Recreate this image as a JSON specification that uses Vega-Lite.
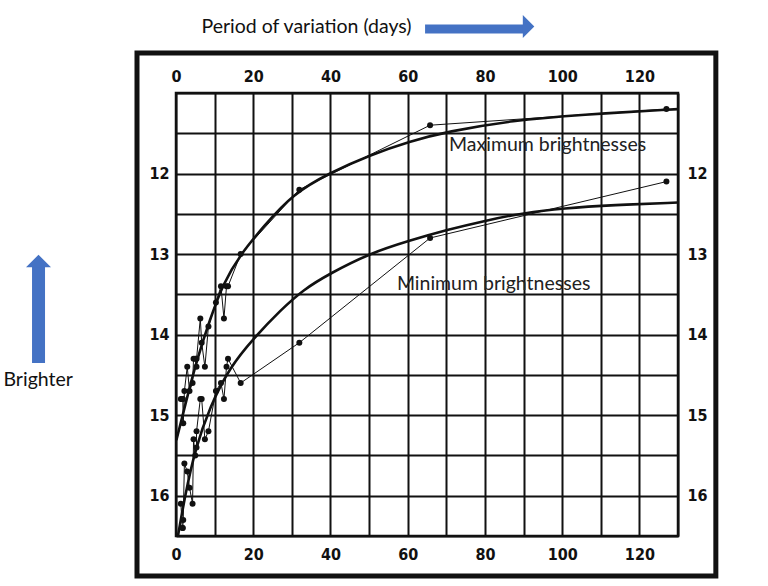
{
  "$schema": "https://vega.github.io/schema/vega-lite/v6.json",
  "width": 502,
  "height": 443,
  "autosize": {"type": "none"},
  "padding": {"left": 176, "top": 93, "right": 90, "bottom": 50},
  "background": "white",
  "config": {
    "view": {"stroke": "#111", "strokeWidth": 2.5},
    "axis": {
      "labelFont": "Liberation Sans Narrow, DejaVu Sans Condensed, sans-serif",
      "labelFontSize": 16,
      "labelFontWeight": "bold",
      "labelColor": "#111",
      "ticks": false,
      "domain": false,
      "title": null,
      "labelFlush": false,
      "labelOverlap": false,
      "gridColor": "#111",
      "gridWidth": 2,
      "gridOpacity": 1
    }
  },
  "datasets": {
    "stars": [
      {"period": 1.25336, "max": 14.8, "min": 16.1},
      {"period": 1.6637, "max": 14.8, "min": 16.4},
      {"period": 1.762, "max": 14.8, "min": 16.4},
      {"period": 1.87502, "max": 15.1, "min": 16.3},
      {"period": 2.17352, "max": 14.7, "min": 15.6},
      {"period": 2.913, "max": 14.4, "min": 15.7},
      {"period": 3.501, "max": 14.7, "min": 15.9},
      {"period": 4.2897, "max": 14.6, "min": 16.1},
      {"period": 4.547, "max": 14.3, "min": 15.3},
      {"period": 4.9866, "max": 14.3, "min": 15.5},
      {"period": 5.311, "max": 14.4, "min": 15.4},
      {"period": 5.323, "max": 14.3, "min": 15.2},
      {"period": 6.2926, "max": 13.8, "min": 14.8},
      {"period": 6.65, "max": 14.1, "min": 14.8},
      {"period": 7.483, "max": 14.4, "min": 15.3},
      {"period": 8.397, "max": 13.9, "min": 15.2},
      {"period": 10.336, "max": 13.6, "min": 14.7},
      {"period": 11.645, "max": 13.4, "min": 14.6},
      {"period": 12.417, "max": 13.8, "min": 14.8},
      {"period": 13.08, "max": 13.4, "min": 14.4},
      {"period": 13.47, "max": 13.4, "min": 14.3},
      {"period": 16.75, "max": 13.0, "min": 14.6},
      {"period": 31.94, "max": 12.2, "min": 14.1},
      {"period": 65.8, "max": 11.4, "min": 12.8},
      {"period": 127.0, "max": 11.2, "min": 12.1}
    ],
    "curves": [
      {"series": "max", "d": 0.1, "m": 15.31},
      {"series": "max", "d": 2.3, "m": 14.89},
      {"series": "max", "d": 5.4, "m": 14.31},
      {"series": "max", "d": 8.8, "m": 13.81},
      {"series": "max", "d": 12.25, "m": 13.36},
      {"series": "max", "d": 16.6, "m": 13.01},
      {"series": "max", "d": 22.6, "m": 12.66},
      {"series": "max", "d": 30.3, "m": 12.25},
      {"series": "max", "d": 39.9, "m": 11.99},
      {"series": "max", "d": 50.2, "m": 11.77},
      {"series": "max", "d": 60.6, "m": 11.6},
      {"series": "max", "d": 70.1, "m": 11.48},
      {"series": "max", "d": 87.3, "m": 11.34},
      {"series": "max", "d": 104.6, "m": 11.27},
      {"series": "max", "d": 130, "m": 11.2},
      {"series": "min", "d": 0.5, "m": 16.5},
      {"series": "min", "d": 2.3, "m": 16.01},
      {"series": "min", "d": 4.9, "m": 15.43},
      {"series": "min", "d": 8.8, "m": 14.89},
      {"series": "min", "d": 14.0, "m": 14.4},
      {"series": "min", "d": 20.0, "m": 14.05},
      {"series": "min", "d": 27.2, "m": 13.69},
      {"series": "min", "d": 33.0, "m": 13.44},
      {"series": "min", "d": 39.9, "m": 13.24},
      {"series": "min", "d": 50.2, "m": 12.99},
      {"series": "min", "d": 60.6, "m": 12.83},
      {"series": "min", "d": 70.1, "m": 12.7},
      {"series": "min", "d": 80.5, "m": 12.58},
      {"series": "min", "d": 89.9, "m": 12.49},
      {"series": "min", "d": 100.3, "m": 12.43},
      {"series": "min", "d": 113.2, "m": 12.39},
      {"series": "min", "d": 130, "m": 12.36}
    ],
    "labels": [
      {"label": "Maximum brightnesses", "d": 70.7, "m": 11.646},
      {"label": "Minimum brightnesses", "d": 57.2, "m": 13.371}
    ],
    "one": [{}]
  },
  "layer": [
    {
      "data": {"name": "curves"},
      "mark": {"type": "line", "interpolate": "basis", "color": "#111", "strokeWidth": 2.6},
      "encoding": {
        "x": {"field": "d", "type": "quantitative",
          "scale": {"domain": [0, 130], "nice": false, "zero": false},
          "axis": {"orient": "bottom", "grid": true, "values": [0,10,20,30,40,50,60,70,80,90,100,110,120,130],
            "labelExpr": "datum.value % 20 === 0 ? datum.label : ''", "labelPadding": 10}},
        "y": {"field": "m", "type": "quantitative",
          "scale": {"domain": [11, 16.5], "nice": false, "zero": false, "reverse": true},
          "axis": {"orient": "left", "grid": true, "values": [11,11.5,12,12.5,13,13.5,14,14.5,15,15.5,16,16.5],
            "labelExpr": "datum.value % 1 === 0 && datum.value >= 12 ? format(datum.value, 'd') : ''", "labelPadding": 7}},
        "detail": {"field": "series"}
      }
    },
    {
      "data": {"name": "stars"},
      "transform": [{"fold": ["max", "min"], "as": ["series", "mag"]}],
      "mark": {"type": "line", "color": "#111", "strokeWidth": 1,
        "point": {"filled": true, "size": 36, "color": "#111"}},
      "encoding": {
        "x": {"field": "period", "type": "quantitative",
          "scale": {"domain": [0, 130], "nice": false, "zero": false},
          "axis": {"orient": "top", "grid": false, "values": [0,20,40,60,80,100,120], "labelPadding": 9}},
        "y": {"field": "mag", "type": "quantitative",
          "scale": {"domain": [11, 16.5], "nice": false, "zero": false, "reverse": true},
          "axis": {"orient": "right", "grid": false, "values": [12,13,14,15,16], "format": "d", "labelPadding": 9}},
        "detail": {"field": "series"}
      }
    },
    {
      "data": {"name": "labels"},
      "mark": {"type": "text", "align": "left", "baseline": "middle", "font": "Lato", "fontSize": 19.5, "color": "#222"},
      "encoding": {
        "x": {"field": "d", "type": "quantitative", "scale": {"domain": [0, 130]}, "axis": null},
        "y": {"field": "m", "type": "quantitative", "scale": {"domain": [11, 16.5], "reverse": true}, "axis": null},
        "text": {"field": "label"}
      }
    },
    {
      "data": {"name": "one"},
      "mark": {"type": "rect", "fill": null, "fillOpacity": 0, "stroke": "#111", "strokeWidth": 5, "clip": false},
      "encoding": {
        "x": {"datum": -10.1, "type": "quantitative", "scale": {"domain": [0, 130]}, "axis": null},
        "x2": {"datum": 139.8},
        "y": {"datum": 10.503, "type": "quantitative", "scale": {"domain": [11, 16.5], "reverse": true}, "axis": null},
        "y2": {"datum": 16.997}
      }
    },
    {
      "data": {"name": "one"},
      "mark": {"type": "text", "text": "Period of variation (days)", "align": "center", "baseline": "middle", "font": "Lato", "fontSize": 19.5, "color": "#111", "clip": false},
      "encoding": {
        "x": {"datum": 33.8, "type": "quantitative", "scale": {"domain": [0, 130]}, "axis": null},
        "y": {"datum": 10.181, "type": "quantitative", "scale": {"domain": [11, 16.5], "reverse": true}, "axis": null}
      }
    },
    {
      "data": {"name": "one"},
      "mark": {"type": "text", "text": "Brighter", "align": "center", "baseline": "middle", "font": "Lato", "fontSize": 19.5, "color": "#111", "clip": false},
      "encoding": {
        "x": {"datum": -35.7, "type": "quantitative", "scale": {"domain": [0, 130]}, "axis": null},
        "y": {"datum": 14.563, "type": "quantitative", "scale": {"domain": [11, 16.5], "reverse": true}, "axis": null}
      }
    },
    {
      "data": {"name": "one"},
      "mark": {"type": "rule", "color": "#4472C4", "strokeWidth": 9, "strokeCap": "butt", "clip": false},
      "encoding": {
        "x": {"datum": 64.5, "type": "quantitative", "scale": {"domain": [0, 130]}, "axis": null},
        "x2": {"datum": 90.3},
        "y": {"datum": 10.205, "type": "quantitative", "scale": {"domain": [11, 16.5], "reverse": true}, "axis": null}
      }
    },
    {
      "data": {"name": "one"},
      "mark": {"type": "point", "shape": "M-0.5,-1L0.5,0L-0.5,1Z", "size": 529, "filled": true, "opacity": 1, "color": "#4472C4", "clip": false},
      "encoding": {
        "x": {"datum": 91.3, "type": "quantitative", "scale": {"domain": [0, 130]}, "axis": null},
        "y": {"datum": 10.174, "type": "quantitative", "scale": {"domain": [11, 16.5], "reverse": true}, "axis": null}
      }
    },
    {
      "data": {"name": "one"},
      "mark": {"type": "rule", "color": "#4472C4", "strokeWidth": 13, "strokeCap": "butt", "clip": false},
      "encoding": {
        "x": {"datum": -35.6, "type": "quantitative", "scale": {"domain": [0, 130]}, "axis": null},
        "y": {"datum": 13.16, "type": "quantitative", "scale": {"domain": [11, 16.5], "reverse": true}, "axis": null},
        "y2": {"datum": 14.352}
      }
    },
    {
      "data": {"name": "one"},
      "mark": {"type": "point", "shape": "M-1,0.5L0,-0.5L1,0.5Z", "size": 625, "filled": true, "opacity": 1, "color": "#4472C4", "clip": false},
      "encoding": {
        "x": {"datum": -35.6, "type": "quantitative", "scale": {"domain": [0, 130]}, "axis": null},
        "y": {"datum": 13.086, "type": "quantitative", "scale": {"domain": [11, 16.5], "reverse": true}, "axis": null}
      }
    }
  ],
  "resolve": {"axis": {"x": "independent", "y": "independent"}}
}
